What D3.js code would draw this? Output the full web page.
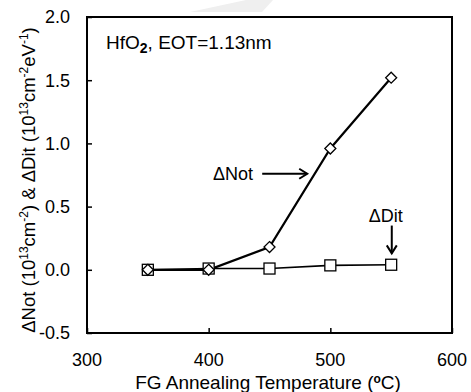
<!DOCTYPE html>
<html>
<head>
<meta charset="utf-8">
<script src="https://cdn.jsdelivr.net/npm/d3@7"></script>
<style>
  body { margin: 0; background: #fff; }
  text { font-family: "Liberation Sans", Arial, sans-serif; fill: #000; }
</style>
</head>
<body>
<div id="chart"></div>
<script>
var temps = [350, 400, 450, 500, 550];
var notValues = [0.0, 0.0, 0.18, 0.96, 1.52];
var ditValues = [0.0, 0.01, 0.01, 0.035, 0.04];
var xTicks = [300, 400, 500, 600];
var yTicks = [-0.5, 0.0, 0.5, 1.0, 1.5, 2.0];

var width = 471, height = 392;
var margin = { left: 87, right: 19, top: 17, bottom: 59 };

var svg = d3.select("#chart").append("svg")
    .attr("width", width)
    .attr("height", height);

// faint watermark swoosh at top
svg.append("polygon")
    .attr("points", "190,12 262,12 273,0 246,0")
    .attr("fill", "#efefef");

var x = d3.scaleLinear().domain([300, 600]).range([margin.left, width - margin.right]);
var y = d3.scaleLinear().domain([-0.5, 2.0]).range([height - margin.bottom, margin.top]);

// inward ticks
var xAxis = d3.axisBottom(x).tickValues(xTicks).tickSize(-5).tickFormat("");
var yAxis = d3.axisLeft(y).tickValues(yTicks).tickSize(-5).tickFormat("");
svg.append("g").attr("transform", "translate(0," + y(-0.5) + ")").call(xAxis)
    .call(function(g){ g.select(".domain").remove(); })
    .selectAll("line").attr("stroke", "#000").attr("stroke-width", 1.5);
svg.append("g").attr("transform", "translate(" + x(300) + ",0)").call(yAxis)
    .call(function(g){ g.select(".domain").remove(); })
    .selectAll("line").attr("stroke", "#000").attr("stroke-width", 1.5);

svg.append("rect")
    .attr("x", x(300)).attr("y", y(2.0))
    .attr("width", x(600) - x(300)).attr("height", y(-0.5) - y(2.0))
    .attr("fill", "none").attr("stroke", "#000").attr("stroke-width", 2);

// tick labels
svg.selectAll(".ylab").data(yTicks).enter().append("text")
    .attr("x", 70).attr("y", function(d){ return y(d); })
    .attr("dy", "0.36em")
    .attr("text-anchor", "end")
    .style("font-size", "18px")
    .text(function(d){ return d.toFixed(1); });
svg.selectAll(".xlab").data(xTicks).enter().append("text")
    .attr("x", function(d){ return x(d); }).attr("y", 366)
    .attr("text-anchor", "middle")
    .style("font-size", "18px")
    .text(function(d){ return d; });

// axis titles
var xt = svg.append("text")
    .attr("x", 268).attr("y", 389)
    .attr("text-anchor", "middle")
    .style("font-size", "19px");
xt.append("tspan").text("FG Annealing Temperature (");
xt.append("tspan").attr("dy", -6).style("font-size", "12px").style("font-weight", "bold").text("o");
xt.append("tspan").attr("dy", 6).text("C)");

var yt = svg.append("text")
    .attr("transform", "translate(35,180) rotate(-90)")
    .attr("text-anchor", "middle")
    .style("font-size", "18.5px");
yt.append("tspan").text("\u0394Not (10");
yt.append("tspan").attr("dy", -7).style("font-size", "12px").text("13");
yt.append("tspan").attr("dy", 7).text("cm");
yt.append("tspan").attr("dy", -7).style("font-size", "12px").text("-2");
yt.append("tspan").attr("dy", 7).text(") & \u0394Dit (10");
yt.append("tspan").attr("dy", -7).style("font-size", "12px").text("13");
yt.append("tspan").attr("dy", 7).text("cm");
yt.append("tspan").attr("dy", -7).style("font-size", "12px").text("-2");
yt.append("tspan").attr("dy", 7).text("eV");
yt.append("tspan").attr("dy", -7).style("font-size", "12px").text("-1");
yt.append("tspan").attr("dy", 7).text(")");

// inset label
var lab = svg.append("text")
    .attr("x", 106).attr("y", 49)
    .style("font-size", "19px");
lab.append("tspan").text("HfO");
lab.append("tspan").attr("dy", 4).style("font-size", "14px").style("font-weight", "bold").text("2");
lab.append("tspan").attr("dy", -4).text(", EOT=1.13nm");

// data lines
var notData = temps.map(function(t, i){ return { t: t, v: notValues[i] }; });
var ditData = temps.map(function(t, i){ return { t: t, v: ditValues[i] }; });

var line = d3.line()
    .x(function(d){ return x(d.t); })
    .y(function(d){ return y(d.v); });

svg.append("path").datum(ditData).attr("d", line)
    .attr("fill", "none").attr("stroke", "#000").attr("stroke-width", 1.6);
svg.append("path").datum(notData).attr("d", line)
    .attr("fill", "none").attr("stroke", "#000").attr("stroke-width", 2.2);

// markers
var sq = 11;
svg.selectAll(".sq").data(ditData).enter().append("rect")
    .attr("x", function(d){ return x(d.t) - sq / 2; })
    .attr("y", function(d){ return y(d.v) - sq / 2; })
    .attr("width", sq).attr("height", sq)
    .attr("fill", "#fff").attr("stroke", "#000").attr("stroke-width", 1.3);
var dm = 5.5;
svg.selectAll(".dm").data(notData).enter().append("path")
    .attr("d", function(d){
        var cx = x(d.t), cy = y(d.v);
        return "M" + cx + "," + (cy - dm) + "L" + (cx + dm) + "," + cy +
            "L" + cx + "," + (cy + dm) + "L" + (cx - dm) + "," + cy + "Z";
    })
    .attr("fill", "#fff").attr("stroke", "#000").attr("stroke-width", 1.3);

// annotations
svg.append("text")
    .attr("x", x(403.6)).attr("y", y(0.76)).attr("dy", "0.36em")
    .style("font-size", "18px").text("\u0394Not");
svg.append("line")
    .attr("x1", x(444)).attr("x2", x(481)).attr("y1", y(0.76)).attr("y2", y(0.76))
    .attr("stroke", "#000").attr("stroke-width", 2);
svg.append("path")
    .attr("d", "M" + (x(481) - 8) + "," + (y(0.76) - 5) + "L" + x(481) + "," + y(0.76) +
        "L" + (x(481) - 8) + "," + (y(0.76) + 5))
    .attr("fill", "none").attr("stroke", "#000").attr("stroke-width", 2);

svg.append("text")
    .attr("x", x(545.5)).attr("y", y(0.43)).attr("dy", "0.36em")
    .attr("text-anchor", "middle")
    .style("font-size", "18px").text("\u0394Dit");
svg.append("line")
    .attr("x1", x(550.5)).attr("x2", x(550.5)).attr("y1", y(0.35)).attr("y2", y(0.13))
    .attr("stroke", "#000").attr("stroke-width", 2);
svg.append("path")
    .attr("d", "M" + (x(550.5) - 5) + "," + (y(0.13) - 8) + "L" + x(550.5) + "," + y(0.13) +
        "L" + (x(550.5) + 5) + "," + (y(0.13) - 8))
    .attr("fill", "none").attr("stroke", "#000").attr("stroke-width", 2);
</script>
</body>
</html>
